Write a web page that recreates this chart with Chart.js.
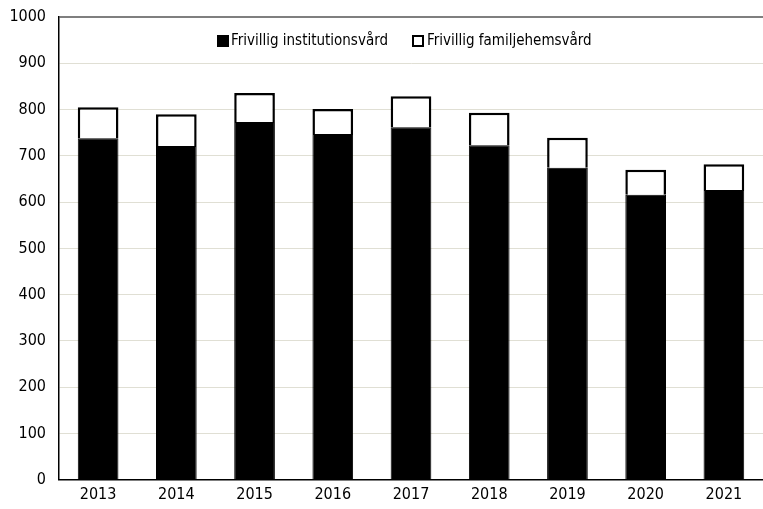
<!DOCTYPE html>
<html>
<head>
<meta charset="utf-8">
<script src="https://cdn.jsdelivr.net/npm/chart.js@4"></script>
<style>
  html, body { margin: 0; padding: 0; background: #fff; }
  #wrap { width: 763px; height: 509px; }
</style>
</head>
<body>
<div id="wrap"><canvas id="chart" width="763" height="509"></canvas></div>
<script>
const years = ['2013', '2014', '2015', '2016', '2017', '2018', '2019', '2020', '2021'];
const institution = [738, 721, 773, 747, 762, 723, 674, 616, 626];
const familyHome = [67, 69, 63, 54, 67, 70, 65, 54, 56];
const seriesNames = ['Frivillig institutionsvård', 'Frivillig familjehemsvård'];

const FONT = '"Liberation Sans Narrow", "DejaVu Sans Condensed", sans-serif';

// legend drawn inside the plot area, like the original
const innerLegend = {
  id: 'innerLegend',
  afterDraw(chart) {
    const ctx = chart.ctx;
    ctx.save();
    ctx.font = '15px ' + FONT;
    ctx.textBaseline = 'middle';
    ctx.fillStyle = '#000';
    const y = 41;
    // first item: filled box
    ctx.fillRect(217, y - 6, 12, 12);
    ctx.fillText(seriesNames[0], 231, y);
    // second item: open box
    ctx.lineWidth = 2;
    ctx.strokeStyle = '#000';
    ctx.strokeRect(413, y - 5, 10, 10);
    ctx.fillText(seriesNames[1], 427, y);
    ctx.restore();
  }
};

const ctx = document.getElementById('chart').getContext('2d');
new Chart(ctx, {
  type: 'bar',
  data: {
    labels: years,
    datasets: [{
      label: seriesNames[0],
      data: institution,
      backgroundColor: '#000',
      borderColor: '#000',
      borderWidth: 1
    }, {
      label: seriesNames[1],
      data: familyHome,
      backgroundColor: '#fff',
      borderColor: '#000',
      borderWidth: 2.5
    }]
  },
  options: {
    responsive: false,
    animation: false,
    layout: { padding: { top: 16, right: 0, left: 0, bottom: 0 } },
    barPercentage: 0.52,
    categoryPercentage: 1,
    plugins: {
      legend: { display: false },
      tooltip: { enabled: false }
    },
    scales: {
      x: {
        stacked: true,
        grid: { display: false, drawTicks: false },
        border: { color: '#000', width: 1.5 },
        ticks: { color: '#000', font: { family: FONT, size: 16 }, padding: 5 }
      },
      y: {
        stacked: true,
        min: 0,
        max: 1000,
        afterFit: (s) => { s.width = 59; },
        grid: {
          color: (c) => c.tick && c.tick.value === 1000 ? '#7f7f7f' : '#e0dfd4',
          lineWidth: (c) => c.tick && c.tick.value === 1000 ? 2 : 1,
          drawTicks: false
        },
        border: { color: '#000', width: 1.5 },
        ticks: {
          color: '#000',
          stepSize: 100,
          font: { family: FONT, size: 16, lineHeight: 0.5 },
          padding: 13,
          callback: (v) => String(v)
        }
      }
    }
  },
  plugins: [innerLegend]
});
</script>
</body>
</html>
